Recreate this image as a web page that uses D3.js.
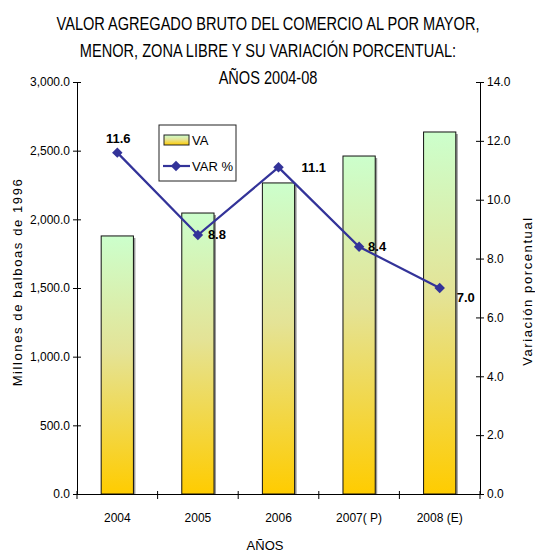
<!doctype html>
<html>
<head>
    <title>VA Comercio</title>
    <meta charset="utf-8">
    <style>
        body { margin: 0; background: #fff; }
        svg { display: block; font-family: "Liberation Sans Narrow", "Arial Narrow", "Liberation Sans", Arial, sans-serif; }
    </style>
    <script src="https://d3js.org/d3.v7.min.js"></script>
</head>
<body>
    <svg width="535" height="553"></svg>
    <script>
        // data
        var years = ["2004", "2005", "2006", "2007( P)", "2008 (E)"];
        var va = [1879, 2046, 2265, 2461, 2636];
        var varPct = [11.6, 8.8, 11.1, 8.4, 7.0];
        var leftTicks = [0, 500, 1000, 1500, 2000, 2500, 3000];
        var rightTicks = [0, 2, 4, 6, 8, 10, 12, 14];
        var titleLines = ["VALOR AGREGADO BRUTO DEL COMERCIO AL POR MAYOR,",
                          "MENOR,  ZONA LIBRE Y SU VARIACIÓN PORCENTUAL:",
                          "AÑOS 2004-08"];
        // label offsets for point values (dx, dy)
        var labelOff = [[1, -10], [10, 4], [23, 5], [9, 4], [17, 14]];

        var svg = d3.select("svg");
        var pLeft = 77, pRight = 480, pTop = 82, pBottom = 494;

        var defs = svg.append("defs");
        var grad = defs.append("linearGradient").attr("id", "barGrad")
            .attr("x1", 0).attr("y1", 0).attr("x2", 0).attr("y2", 1);
        grad.append("stop").attr("offset", "0%").attr("stop-color", "#ccffcc");
        grad.append("stop").attr("offset", "45%").attr("stop-color", "#e4e396");
        grad.append("stop").attr("offset", "100%").attr("stop-color", "#ffcc00");

        var xScale = d3.scaleBand().domain(years).range([pLeft, pRight]);
        var yScale = d3.scaleLinear().domain([0, 3000]).range([pBottom, pTop]);
        var y2Scale = d3.scaleLinear().domain([0, 14]).range([pBottom, pTop]);
        var barW = xScale.bandwidth() * 0.4;

        // title (narrowed, source uses a condensed face)
        svg.append("g").attr("transform", "translate(268,0) scale(0.81,1)")
            .selectAll("text")
            .data(titleLines)
            .enter().append("text")
            .attr("x", 0)
            .attr("y", function(d, i) { return 30 + i * 27; })
            .attr("text-anchor", "middle")
            .style("font-size", "18px")
            .text(function(d) { return d; });

        // bars (shadow + bar)
        var bars = svg.append("g");
        bars.selectAll(".shadow")
            .data(va)
            .enter().append("rect")
            .attr("x", function(d, i) { return xScale(years[i]) + (xScale.bandwidth() - barW) / 2 + 2; })
            .attr("y", function(d) { return yScale(d) + 2; })
            .attr("width", barW)
            .attr("height", function(d) { return pBottom - yScale(d) - 2; })
            .attr("fill", "#9a9a9a");
        bars.selectAll(".bar")
            .data(va)
            .enter().append("rect")
            .attr("x", function(d, i) { return xScale(years[i]) + (xScale.bandwidth() - barW) / 2; })
            .attr("y", function(d) { return yScale(d); })
            .attr("width", barW)
            .attr("height", function(d) { return pBottom - yScale(d); })
            .attr("fill", "url(#barGrad)")
            .attr("stroke", "#111")
            .attr("stroke-width", 1);

        // left axis
        var gl = svg.append("g").attr("transform", "translate(" + pLeft + ",0)")
            .call(d3.axisLeft(yScale).tickValues(leftTicks).tickSize(4)
                .tickFormat(function(d) { return d3.format(",.1f")(d); }));
        gl.selectAll(".tick line").attr("x2", 4).attr("x1", -4);

        // right axis
        var gr = svg.append("g").attr("transform", "translate(" + pRight + ",0)")
            .call(d3.axisRight(y2Scale).tickValues(rightTicks).tickSize(4)
                .tickFormat(d3.format(".1f")));
        gr.selectAll(".tick line").attr("x1", -4).attr("x2", 4);

        // bottom axis
        var gb = svg.append("g").attr("transform", "translate(0," + pBottom + ")")
            .call(d3.axisBottom(xScale).tickSize(0).tickPadding(19));
        var bounds = years.map(function(d) { return xScale(d); }).concat([pRight]);
        gb.selectAll(".bt").data(bounds).enter().append("line")
            .attr("x1", function(d) { return d; }).attr("x2", function(d) { return d; })
            .attr("y1", -3).attr("y2", 5).attr("stroke", "#000");

        [gl, gr, gb].forEach(function(g) {
            g.select(".domain").attr("stroke", "#000");
            g.selectAll(".tick line").attr("stroke", "#000");
            g.selectAll("text").attr("fill", "#000")
                .style("font-family", "inherit").style("font-size", "12px");
        });

        // line
        var line = d3.line()
            .x(function(d, i) { return xScale(years[i]) + xScale.bandwidth() / 2; })
            .y(function(d) { return y2Scale(d); });
        svg.append("path").datum(varPct)
            .attr("d", line)
            .attr("fill", "none")
            .attr("stroke", "#333399")
            .attr("stroke-width", 2.2);
        var diamond = d3.symbol().type(d3.symbolDiamond2).size(70);
        svg.append("g").selectAll("path")
            .data(varPct)
            .enter().append("path")
            .attr("d", diamond)
            .attr("transform", function(d, i) {
                return "translate(" + (xScale(years[i]) + xScale.bandwidth() / 2) + "," + y2Scale(d) + ")";
            })
            .attr("fill", "#333399");
        svg.append("g").selectAll("text")
            .data(varPct)
            .enter().append("text")
            .attr("x", function(d, i) { return xScale(years[i]) + xScale.bandwidth() / 2 + labelOff[i][0]; })
            .attr("y", function(d, i) { return y2Scale(d) + labelOff[i][1]; })
            .attr("text-anchor", function(d, i) { return i == 0 ? "middle" : "start"; })
            .style("font-size", "13px")
            .style("font-weight", "bold")
            .text(function(d) { return d3.format(".1f")(d); });

        // axis titles
        svg.append("text")
            .attr("transform", "translate(22,282) rotate(-90)")
            .attr("text-anchor", "middle")
            .style("font-size", "13px")
            .style("letter-spacing", "1.6px")
            .text("Millones de balboas de 1996");
        svg.append("text")
            .attr("transform", "translate(532,291) rotate(-90)")
            .attr("text-anchor", "middle")
            .style("font-size", "13px")
            .style("letter-spacing", "1.6px")
            .text("Variación porcentual");
        svg.append("text")
            .attr("x", 265).attr("y", 550)
            .attr("text-anchor", "middle")
            .style("font-size", "13px")
            .text("AÑOS");

        // legend
        var lg = svg.append("g").attr("transform", "translate(159,125)");
        lg.append("rect").attr("width", 77).attr("height", 56)
            .attr("fill", "#fff").attr("stroke", "#222");
        lg.append("rect").attr("x", 5).attr("y", 10).attr("width", 25).attr("height", 10)
            .attr("fill", "url(#barGrad)").attr("stroke", "#222");
        lg.append("text").attr("x", 33).attr("y", 20).style("font-size", "13px").text("VA");
        lg.append("line").attr("x1", 4).attr("x2", 31).attr("y1", 41).attr("y2", 41)
            .attr("stroke", "#333399").attr("stroke-width", 2.2);
        lg.append("path").attr("d", diamond).attr("transform", "translate(17,41)").attr("fill", "#333399");
        lg.append("text").attr("x", 33).attr("y", 46).style("font-size", "13px").text("VAR %");
    </script>
</body>
</html>
